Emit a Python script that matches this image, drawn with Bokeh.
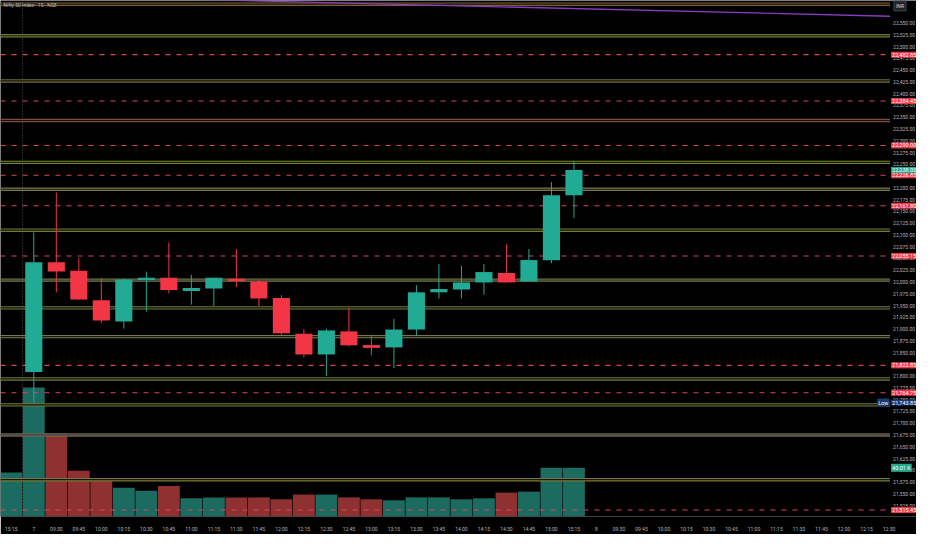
from bokeh.plotting import figure
from bokeh.models import Range1d, FixedTicker
from bokeh.core.properties import value
from bokeh.embed import file_html
from bokeh.resources import INLINE

# ---------------- data ----------------
time_labels = ["15:15", "7", "09:30", "09:45", "10:00", "10:15", "10:30", "10:45",
               "11:00", "11:15", "11:30", "11:45", "12:00", "12:15", "12:30", "12:45",
               "13:00", "13:15", "13:30", "13:45", "14:00", "14:15", "14:30", "14:45",
               "15:00", "15:15", "8", "09:30", "09:45", "10:00", "10:15", "10:30",
               "10:45", "11:00", "11:15", "11:30", "11:45", "12:00", "12:15", "12:30"]

candle_idx = [1, 2, 3, 4, 5, 6, 7, 8, 9, 10, 11, 12, 13, 14, 15, 16, 17, 18, 19, 20,
              21, 22, 23, 24, 25]
opens  = [21809, 22042, 22024, 21961, 21916, 22004, 22009, 21981, 21986, 22007,
          22001, 21966, 21890, 21846, 21895, 21866, 21861, 21899, 21978, 21984,
          21999, 22019, 22001, 22046, 22184]
highs  = [22105, 22190, 22051, 22009, 22007, 22022, 22084, 22015, 22009, 22070,
          22004, 21972, 21900, 21901, 21945, 21888, 21922, 21993, 22038, 22034,
          22038, 22080, 22070, 22212, 22256]
lows   = [21743.85, 21978, 21962, 21913, 21901, 21937, 21976, 21952, 21949, 21989,
          21949, 21888, 21840, 21800, 21863, 21844, 21817, 21886, 21965, 21965,
          21973, 21999, 22001, 22040, 22136]
closes = [22042, 22022, 21963, 21918, 22005, 22009, 21983, 21987, 22009, 22002,
          21965, 21891, 21846, 21897, 21865.5, 21860, 21899, 21978, 21985, 21999,
          22021, 21999, 22046.5, 22184, 22238]

vol_idx = list(range(26))
volumes = [36100, 105900, 68200, 37600, 29800, 23500, 21200, 25100, 14900, 15700,
           15700, 15700, 14100, 18000, 18000, 15700, 14100, 13300, 15700, 15700,
           14100, 14900, 19600, 20400, 40000, 40010]
vol_up = [True, True, False, False, False, True, True, False, True, True,
          False, False, False, False, True, False, False, True, True, True,
          True, True, False, True, True, True]

level_vals = [22482.85, 22384.45, 22290.00, 22226.85, 22161.80, 22055.15,
              21822.85, 21764.75, 21515.45]

zone_vals = [22590, 22523, 22427, 22343, 22254, 22197, 22110, 22004, 21945,
             21884, 21794, 21739, 21675, 21580]
zone_outer = ["#7a5e3a", "#6f7a3a", "#6e6a3c", "#7a4e3e", "#7c8c2c", "#77774a",
              "#6e7a38", "#6e7a38", "#6e7a38", "#77774a", "#6e7a38", "#6e7a38",
              "#6a6a40", "#7a7a38"]
zone_inner = ["#1a1208", "#14160a", "#16140a", "#1c100c", "#10160a", "#1a1a12",
              "#10140a", "#3a3a3a", "#10140a", "#1a1a12", "#10140a", "#14160a",
              "#4a3a5a", "#14140a"]

trend_x = [8, 39.04]
trend_y = [22600.5, 22564.4]

session_x = [0.5]
price_ticks = [21525 + 25 * i for i in range(42)]

low_value = 21743.85
last_close = 22238.00
last_volume = 40010
title_text = "Nifty 50 Index · 15 · NSE"
currency_text = "INR"

# ---------------- figure ----------------
W, H = 916, 534
BB = 12
X0, X_EDGE, X1 = -0.48, 39.04, 40.22   # chart area ends at X_EDGE, price scale beyond
Y0, Y1 = 21501.8, 22597.9
VMAX = 423600

UP, DN = "#22ab94", "#f23645"
VUP, VDN = "#1b6b61", "#8e3130"
LOWC = "#1c3a74"
TXT = "#b2b5be"
FONT = value("Roboto")
FS = value("5px")
BFS = value("5.5px")

p = figure(width=W, height=H, output_backend="svg", toolbar_location=None,
           x_range=Range1d(X0, X1), y_range=Range1d(Y0, Y1),
           y_axis_location=None,
           background_fill_color="#000000", border_fill_color="#000000",
           min_border_left=0, min_border_top=0, min_border_right=0,
           min_border_bottom=BB, outline_line_color=None)
p.grid.visible = False
p.extra_y_ranges = {"vol": Range1d(0, VMAX)}

ax = p.xaxis[0]
ax.axis_line_color = None
ax.major_tick_line_color = None
ax.minor_tick_line_color = None
ax.major_label_text_font_size = "5px"
ax.major_label_text_color = TXT
ax.major_label_text_font = "Roboto"
ax.major_label_standoff = 3
ax.ticker = FixedTicker(ticks=list(range(len(time_labels))))
ax.major_label_overrides = {i: t for i, t in enumerate(time_labels)}

# volume
p.vbar(x=vol_idx, top=volumes, width=0.97, y_range_name="vol",
       fill_color=[VUP if u else VDN for u in vol_up], line_color=None)

# session break
p.segment(x0=session_x, y0=Y0, x1=session_x, y1=Y1,
          line_color="#555555", line_dash="1 2", line_width=1)

# zones (double olive lines)
p.segment(x0=X0, y0=zone_vals, x1=X_EDGE, y1=zone_vals,
          line_color=zone_outer, line_width=3.4)
p.segment(x0=X0, y0=zone_vals, x1=X_EDGE, y1=zone_vals,
          line_color=zone_inner, line_width=1.2)

# dashed levels
p.segment(x0=X0, y0=level_vals, x1=X_EDGE, y1=level_vals,
          line_color="#dc4560", line_dash="5 6", line_width=1.1)

# trend line
p.line(trend_x, trend_y, line_color="#8a3cc0", line_width=1.3)

# candles
ccol = [UP if c >= o else DN for o, c in zip(opens, closes)]
p.segment(x0=candle_idx, y0=highs, x1=candle_idx, y1=lows, line_color=ccol, line_width=1)
p.vbar(x=candle_idx, top=[max(o, c) for o, c in zip(opens, closes)],
       bottom=[min(o, c) for o, c in zip(opens, closes)], width=0.76,
       fill_color=ccol, line_color=None)

# price scale tick labels
p.text(x=X_EDGE + 0.14, y=price_ticks, text=[f"{t:,.2f}" for t in price_ticks],
       text_font=FONT, text_font_size=FS, text_color=TXT,
       text_baseline="middle", text_align="left")

# badges
bx = X_EDGE + 0.05
b_y = level_vals + [last_close, low_value]
b_t = [f"{v:,.2f}" for v in level_vals] + [f"{last_close:,.2f}", f"{low_value:,.2f}"]
b_c = [DN] * len(level_vals) + [UP, LOWC]
p.text(x=bx, y=b_y, text=b_t, text_font=FONT, text_font_size=BFS, text_color="#ffffff",
       text_baseline="middle", text_align="left", background_fill_color=b_c, padding=1)
p.text(x=[X_EDGE - 0.02], y=[low_value], text=["Low"], text_font=FONT, text_font_size=BFS,
       text_color="#ffffff", text_baseline="middle", text_align="right",
       background_fill_color=LOWC, padding=1)
p.text(x=[bx], y=[last_volume], text=[f"{last_volume/1000:.2f} K"], y_range_name="vol",
       text_font=FONT, text_font_size=BFS, text_color="#ffffff", text_baseline="middle",
       text_align="left", background_fill_color=UP, padding=1)

# title and currency
p.text(x=[X0 + 0.13], y=[22588.5], text=[title_text], text_font=FONT, text_font_size=FS,
       text_color=TXT, text_baseline="middle", text_align="left")
p.text(x=[X_EDGE + 0.18], y=[22586.5], text=[currency_text], text_font=FONT,
       text_font_size=FS, text_color="#d1d4dc", text_baseline="middle", text_align="left",
       background_fill_color="#1e222d", border_line_color="#434651", padding=2)

open("out.html", "w").write(file_html(p, INLINE))
